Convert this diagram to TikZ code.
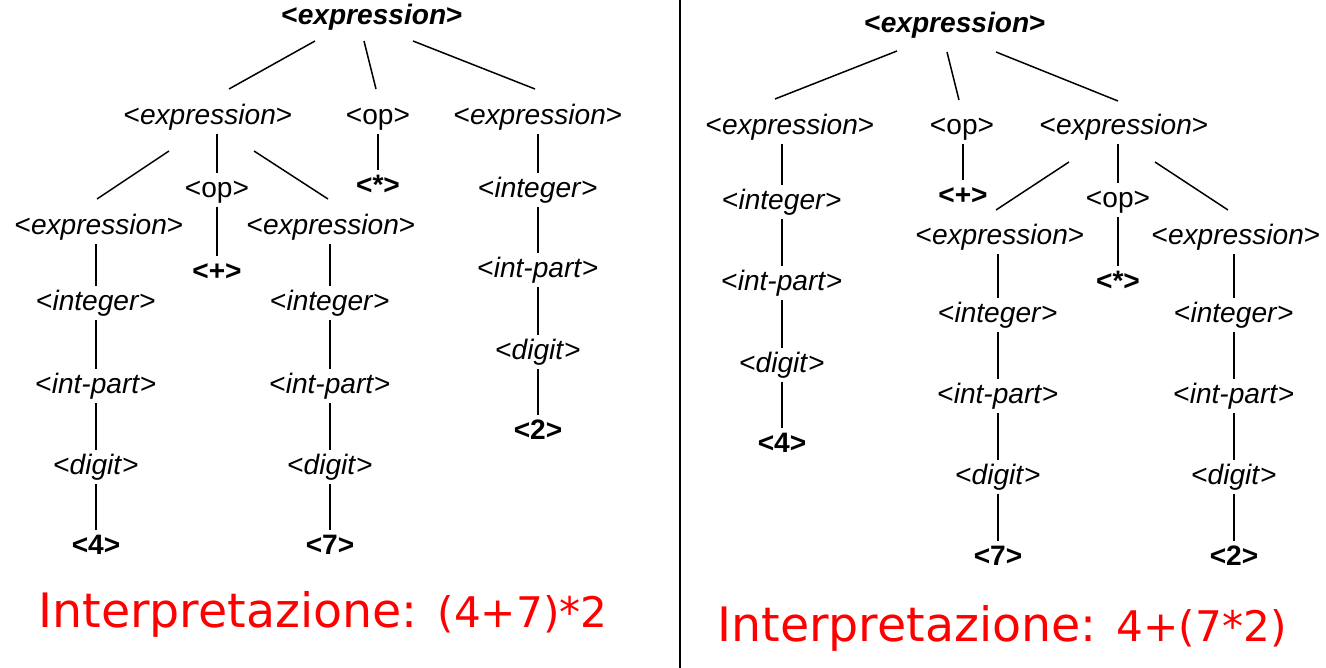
\documentclass[tikz,border=0pt]{standalone}
\usepackage{fontspec}
\setmainfont{Liberation Sans}
\newfontfamily\notefont{DejaVu Sans}
\usetikzlibrary{calc}
\newcommand\nterm[1]{<\textit{#1}>}
\begin{document}
\begin{tikzpicture}[x=0.2mm,y=-0.2mm,
    nt/.style={font=\fontsize{16}{16}\selectfont,inner sep=2pt,text height=11.5pt,text depth=3.5pt},
    leaf/.style={nt,font=\fontsize{16}{16}\selectfont\bfseries},
    branch/.style={line width=0.85pt},
    interp/.style={text=red,anchor=base west,inner sep=0pt}]
  \useasboundingbox (0,0) rectangle (1326,668);
  \draw[line width=1.6pt] (680,0) -- (680,668);

  % (4+7)*2
  \node[leaf] (lroot) at (372,17) {<\textit{expression}>};
  \node[nt] (lexpA) at (208,117) {\nterm{expression}};
  \node[nt] (lop) at (378,117) {<op>};
  \node[nt] (lexpB) at (538,117) {\nterm{expression}};
  \node[leaf] (lmul) at (378,187) {<*>};
  \node[nt] (lexpC) at (99,227) {\nterm{expression}};
  \node[nt] (lopB) at (217,190) {<op>};
  \node[nt] (lexpD) at (331,227) {\nterm{expression}};
  \node[leaf] (lplus) at (217,273) {<+>};
  \node[nt] (lintC) at (96,303) {\nterm{integer}};
  \node[nt] (lpartC) at (96,386) {\nterm{int-part}};
  \node[nt] (ldigC) at (96,467) {\nterm{digit}};
  \node[leaf] (lfour) at (96,547) {<4>};
  \node[nt] (lintD) at (330,303) {\nterm{integer}};
  \node[nt] (lpartD) at (330,386) {\nterm{int-part}};
  \node[nt] (ldigD) at (330,467) {\nterm{digit}};
  \node[leaf] (lseven) at (330,547) {<7>};
  \node[nt] (lintB) at (538,190) {\nterm{integer}};
  \node[nt] (lpartB) at (538,270) {\nterm{int-part}};
  \node[nt] (ldigB) at (538,352) {\nterm{digit}};
  \node[leaf] (ltwo) at (538,432) {<2>};

  \draw[branch] ($(lroot)+(-57,24)$) -- ($(lexpA)+(21,-28)$);
  \draw[branch] ($(lroot)+(-8,24)$) -- ($(lop)+(-2,-28)$);
  \draw[branch] ($(lroot)+(41,24)$) -- ($(lexpB)+(-3,-28)$);
  \draw[branch] ($(lexpA)+(-39,34)$) -- ($(lexpC)+(-2,-28)$);
  \draw[branch] ($(lexpA)+(46,34)$) -- ($(lexpD)+(-3,-28)$);
  \draw[branch] (lexpA.south -| lopB) -- (lopB);
  \draw[branch] (lop) -- (lmul) (lopB) -- (lplus);
  \draw[branch] (lexpC.south -| lintC) -- (lintC) -- (lpartC) -- (ldigC) -- (lfour);
  \draw[branch] (lexpD.south -| lintD) -- (lintD) -- (lpartD) -- (ldigD) -- (lseven);
  \draw[branch] (lexpB) -- (lintB) -- (lpartB) -- (ldigB) -- (ltwo);

  \node[interp] (linterp) at (38,628) {\notefont\fontsize{27}{27}\selectfont Interpretazione: \fontsize{24}{24}\selectfont(4+7)*2};

  % 4+(7*2)
  \node[leaf] (rroot) at (955,25) {<\textit{expression}>};
  \node[nt] (rexpA) at (790,127) {\nterm{expression}};
  \node[nt] (rop) at (962,127) {<op>};
  \node[nt] (rexpB) at (1124,127) {\nterm{expression}};
  \node[leaf] (rplus) at (963,197) {<+>};
  \node[nt] (rintA) at (782,202) {\nterm{integer}};
  \node[nt] (rpartA) at (782,283) {\nterm{int-part}};
  \node[nt] (rdigA) at (782,365) {\nterm{digit}};
  \node[leaf] (rfour) at (782,445) {<4>};
  \node[nt] (rexpC) at (1000,237) {\nterm{expression}};
  \node[nt] (ropB) at (1118,200) {<op>};
  \node[nt] (rexpD) at (1236,237) {\nterm{expression}};
  \node[leaf] (rmul) at (1118,283) {<*>};
  \node[nt] (rintC) at (998,315) {\nterm{integer}};
  \node[nt] (rpartC) at (998,396) {\nterm{int-part}};
  \node[nt] (rdigC) at (998,477) {\nterm{digit}};
  \node[leaf] (rseven) at (998,558) {<7>};
  \node[nt] (rintD) at (1234,315) {\nterm{integer}};
  \node[nt] (rpartD) at (1234,396) {\nterm{int-part}};
  \node[nt] (rdigD) at (1234,477) {\nterm{digit}};
  \node[leaf] (rtwo) at (1234,558) {<2>};

  \draw[branch] ($(rroot)+(-58,26)$) -- ($(rexpA)+(-15,-28)$);
  \draw[branch] ($(rroot)+(-8,27)$) -- ($(rop)+(-3,-27)$);
  \draw[branch] ($(rroot)+(41,27)$) -- ($(rexpB)+(-6,-26)$);
  \draw[branch] ($(rexpB)+(-55,35)$) -- ($(rexpC)+(-4,-27)$);
  \draw[branch] ($(rexpB)+(31,35)$) -- ($(rexpD)+(-8,-27)$);
  \draw[branch] (rexpB.south -| ropB) -- (ropB);
  \draw[branch] (rexpA.south -| rintA) -- (rintA) -- (rpartA) -- (rdigA) -- (rfour);
  \draw[branch] (rop.south -| rplus) -- (rplus) (ropB) -- (rmul);
  \draw[branch] (rexpC.south -| rintC) -- (rintC) -- (rpartC) -- (rdigC) -- (rseven);
  \draw[branch] (rexpD.south -| rintD) -- (rintD) -- (rpartD) -- (rdigD) -- (rtwo);

  \node[interp] (rinterp) at (717,642) {\notefont\fontsize{27}{27}\selectfont Interpretazione: \fontsize{24}{24}\selectfont4+(7*2)};
\end{tikzpicture}
\end{document}
